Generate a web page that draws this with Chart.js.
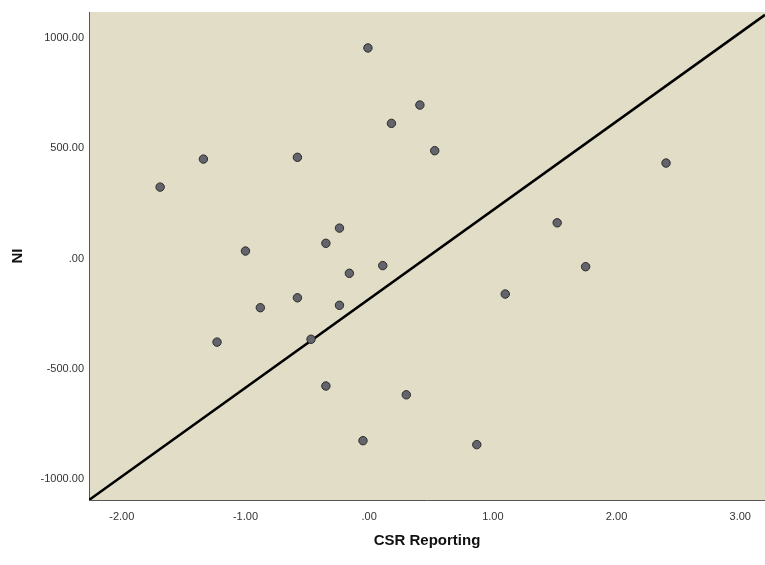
<!DOCTYPE html>
<html>
<head>
<meta charset="utf-8">
<script src="https://cdn.jsdelivr.net/npm/chart.js@4"></script>
<style>
  body { margin: 0; background: #fff; }
  #wrap { width: 765px; height: 565px; }
</style>
</head>
<body>
<div id="wrap"><canvas id="scatterChart" width="765" height="565"></canvas></div>
<script>
// ---- data ----
const csrReporting = [-1.69, -1.34, -1.00, -1.23, -0.88, -0.58, -0.58, -0.47, -0.35, -0.24,
  -0.24, -0.35, -0.16, -0.01, 0.11, 0.18, 0.41, 0.53, 0.30, -0.05,
  0.87, 1.10, 1.52, 1.75, 2.40];
const niValues = [324, 451, 34, -379, -223, 459, -178, -366, 69, 138,
  -212, -578, -67, 955, -32, 613, 696, 489, -618, -826,
  -844, -161, 162, -37, 433];

// fit line end points (value space)
const fitX = [-2.265, 3.2];
const fitY = [-1095, 1105];

const xTicks = [-2, -1, 0, 1, 2, 3];
const yTicks = [-1000, -500, 0, 500, 1000];
const xRange = [-2.265, 3.2];
const yRange = [-1095, 1118];

// SPSS style labels: ".00" instead of "0.00"
function fmt(v) {
  const s = Number(v).toFixed(2);
  return s === "0.00" || s === "-0.00" ? ".00" : s;
}

const plotBg = {
  id: "plotBg",
  beforeDraw(chart) {
    const { ctx, chartArea: a } = chart;
    ctx.save();
    ctx.fillStyle = "#e1ddc6";
    ctx.fillRect(a.left, a.top, a.right - a.left, a.bottom - a.top);
    ctx.restore();
  },
};

const ctx = document.getElementById("scatterChart");

new Chart(ctx, {
  type: "scatter",
  data: {
    datasets: [
      {
        data: csrReporting.map((x, i) => ({ x: x, y: niValues[i] })),
        backgroundColor: "#64656c",
        borderColor: "#2a2a2a",
        borderWidth: 1,
        pointRadius: 4.2,
        order: 1,
      },
      {
        type: "line",
        data: fitX.map((x, i) => ({ x: x, y: fitY[i] })),
        borderColor: "#000",
        borderWidth: 2.5,
        pointRadius: 0,
        fill: false,
        order: 2,
      },
    ],
  },
  options: {
    responsive: false,
    animation: false,
    layout: { autoPadding: false, padding: { top: 12, right: 0, left: 0, bottom: 0 } },
    plugins: {
      legend: { display: false },
      tooltip: { enabled: false },
    },
    scales: {
      x: {
        type: "linear",
        min: xRange[0],
        max: xRange[1],
        afterBuildTicks: (s) => { s.ticks = xTicks.map((v) => ({ value: v })); },
        afterFit: (s) => {
          s.height = 65;
          s.paddingRight = 0;
          s.paddingLeft = 0;
        },
        grid: { display: false, drawTicks: false },
        border: { display: true, color: "#555", width: 1 },
        ticks: {
          callback: (v) => fmt(v),
          color: "#333",
          font: { family: "Liberation Sans", size: 11 },
          padding: 10,
          maxRotation: 0,
        },
        title: {
          display: true,
          text: "CSR Reporting",
          color: "#111",
          font: { family: "Liberation Sans", size: 15, weight: "bold" },
          padding: { top: 0, bottom: 15 },
        },
      },
      y: {
        type: "linear",
        min: yRange[0],
        max: yRange[1],
        afterBuildTicks: (s) => { s.ticks = yTicks.map((v) => ({ value: v })); },
        afterFit: (s) => {
          s.width = 89;
          s.paddingTop = 0;
          s.paddingBottom = 0;
        },
        grid: { display: false, drawTicks: false },
        border: { display: true, color: "#555", width: 1 },
        ticks: {
          callback: (v) => fmt(v),
          color: "#333",
          font: { family: "Liberation Sans", size: 11 },
          padding: 5,
        },
        title: {
          display: true,
          text: "NI",
          color: "#111",
          font: { family: "Liberation Sans", size: 15, weight: "bold" },
          padding: { top: 9, bottom: 0 },
        },
      },
    },
  },
  plugins: [plotBg],
});
</script>
</body>
</html>
